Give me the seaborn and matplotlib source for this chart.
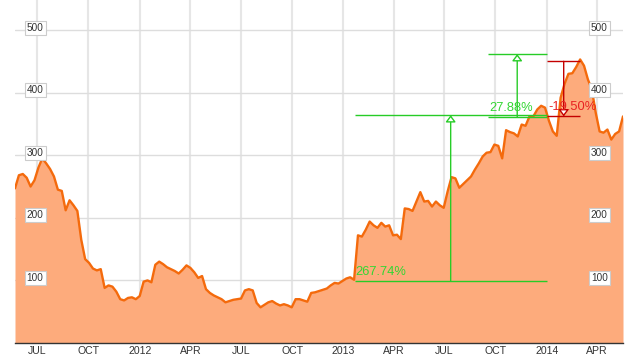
import pandas as pd
import matplotlib.pyplot as plt
import seaborn as sns

sns.set_theme(style="white")
plt.rcParams['font.family'] = ['Liberation Sans', 'DejaVu Sans']

# weekly closing prices
prices = [247, 268, 270, 264, 250, 260, 280, 295, 287, 278,
          266, 245, 243, 212, 228, 220, 211, 165, 134, 128,
          119, 116, 118, 88, 92, 90, 82, 70, 68, 72,
          73, 70, 75, 98, 100, 97, 125, 130, 126, 121,
          118, 115, 111, 117, 124, 120, 113, 104, 107, 86,
          80, 76, 73, 70, 65, 67, 69, 70, 71, 84,
          86, 84, 64, 57, 61, 65, 67, 63, 60, 62,
          60, 57, 70, 70, 68, 66, 80, 81, 83, 85,
          87, 92, 96, 95, 99, 103, 105, 101, 172, 170,
          181, 194, 188, 184, 192, 186, 188, 172, 173, 166,
          215, 214, 211, 226, 241, 226, 227, 218, 226, 220,
          216, 242, 265, 263, 248, 254, 260, 266, 277, 287,
          298, 304, 305, 317, 315, 295, 340, 337, 335, 330,
          349, 347, 362, 362, 373, 379, 376, 355, 338, 331,
          392, 414, 430, 431, 441, 453, 443, 421, 405, 368,
          338, 336, 341, 325, 334, 338, 362]
dates = pd.date_range('2011-05-22', periods=len(prices), freq='W-SUN')
df = pd.DataFrame({'Date': dates, 'Price': prices})

tick_dates = ['2011-07-01', '2011-10-01', '2012-01-01', '2012-04-01',
              '2012-07-01', '2012-10-01', '2013-01-01', '2013-04-01',
              '2013-07-01', '2013-10-01', '2014-01-01', '2014-04-01']
tick_labels = ['JUL', 'OCT', '2012', 'APR', 'JUL', 'OCT', '2013', 'APR',
               'JUL', 'OCT', '2014', 'APR']
y_ticks = [100, 200, 300, 400, 500]

# price-change measurements: start, end, from, to, label
m_start = ['2013-01-21', '2013-09-17', '2014-01-02']
m_end = ['2014-01-01', '2014-01-01', '2014-03-02']
m_from = [99, 361, 450]
m_to = [364, 461.6, 362]
m_label = ['267.74%', '27.88%', '-19.50%']
m_text_y = [108, 370, 373]

GREEN_LINE, GREEN_TEXT = '#27cc27', '#33d633'
RED_LINE, RED_TEXT = '#c40000', '#e82222'

fig = plt.figure(figsize=(6.27, 3.62), dpi=100)
ax = fig.add_axes([15 / 627, 19 / 362, 608 / 627, 343 / 362])

ax.fill_between(df['Date'], df['Price'], 0, color='#fdab7c', lw=0, zorder=2)
sns.lineplot(data=df, x='Date', y='Price', color='#f46a0c', lw=1.7, ax=ax, zorder=3)

ax.set_xlim(dates[0], dates[-1])
ax.set_ylim(0, 548)

ax.set_axisbelow(True)
ax.set_xticks(pd.to_datetime(tick_dates))
ax.set_xticklabels(tick_labels, fontsize=7.6, color='#333333')
ax.set_yticks(y_ticks)
ax.set_yticklabels([])
ax.grid(axis='x', color='#e6e6e6', lw=1.5)
ax.grid(axis='y', color='#dddddd', lw=1)
ax.tick_params(length=0, pad=2.5)
ax.set_xlabel('')
ax.set_ylabel('')
for s in ['left', 'right', 'top']:
    ax.spines[s].set_visible(False)
ax.spines['bottom'].set_color('#333333')
ax.spines['bottom'].set_linewidth(1)

# boxed y labels on both sides, inside the plot
for v in y_ticks:
    for xf in [0.033, 0.961]:
        ax.text(xf, v + 4, str(v), transform=ax.get_yaxis_transform(),
                ha='center', va='center', fontsize=7.2, color='#333333', zorder=6,
                bbox=dict(boxstyle='square,pad=0.2', fc='white', ec='#cccccc', lw=0.8))

for i in range(len(m_label)):
    s, e = pd.Timestamp(m_start[i]), pd.Timestamp(m_end[i])
    mid = s + (e - s) / 2
    up = m_to[i] > m_from[i]
    lc = GREEN_LINE if up else RED_LINE
    tc = GREEN_TEXT if up else RED_TEXT
    ax.hlines([m_from[i], m_to[i]], s, e, color=lc, lw=1, zorder=4)
    ax.annotate('', xy=(mid, m_to[i]), xytext=(mid, m_from[i]), zorder=5,
                arrowprops=dict(arrowstyle='-|>,head_length=0.4,head_width=0.3',
                                ec=lc, fc='white', lw=1, shrinkA=0, shrinkB=0,
                                mutation_scale=10))
    ax.text(s + pd.Timedelta(days=2), m_text_y[i], m_label[i], color=tc,
            fontsize=9.3, va='baseline', ha='left', zorder=6)

plt.savefig('out.png', dpi=100)
